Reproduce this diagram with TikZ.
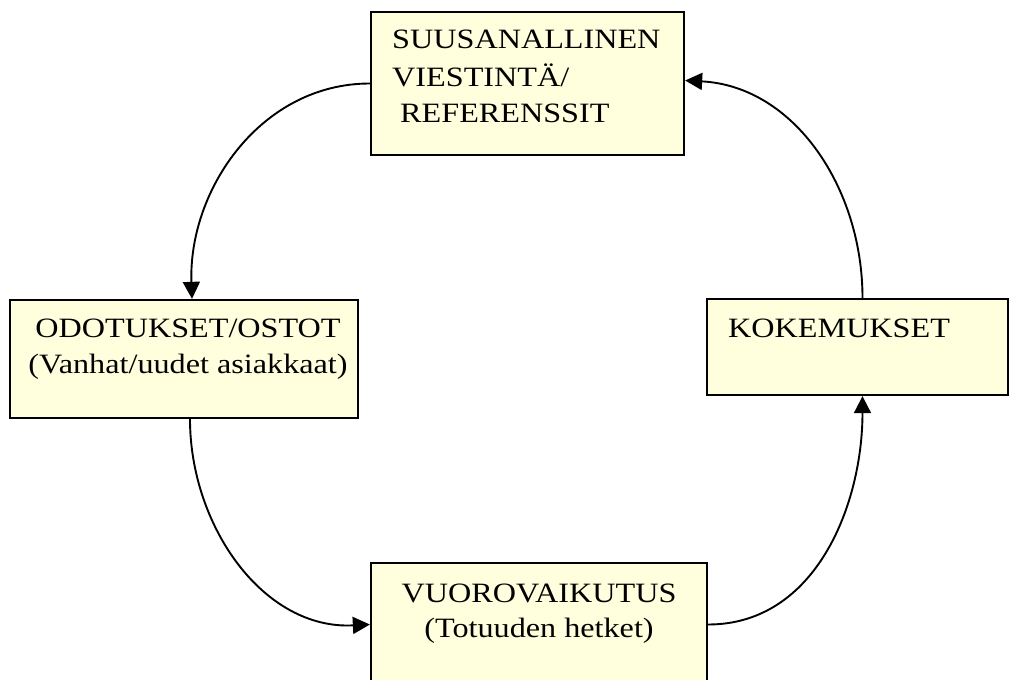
\documentclass[tikz,border=0pt]{standalone}
\usepackage{fontspec}
\setmainfont{Liberation Serif}[FakeStretch=1.15]
\usetikzlibrary{arrows.meta}
\definecolor{boxfill}{RGB}{255,255,222}
\begin{document}
\begin{tikzpicture}[x=1pt,y=-1pt,
  box/.style={draw=black, line width=2.3pt, fill=boxfill, inner sep=0pt},
  lbl/.style={inner sep=0pt, font=\fontsize{28}{37}\selectfont},
  link/.style={line width=1.9pt, -{Triangle[length=17pt,width=17pt]}}]
  \useasboundingbox (0,0) rectangle (1010,680);
  \clip (0,0) rectangle (1010,680);

  % boxes
  \node[box, minimum width=313pt, minimum height=143pt] (wom) at (527.5,83.5) {};
  \node[box, minimum width=348pt, minimum height=118pt] (exp) at (184,359) {};
  \node[box, minimum width=301pt, minimum height=96pt]  (kok) at (857.5,347) {};
  \node[box, minimum width=336pt, minimum height=123pt] (vuo) at (539,624.5) {};

  % labels
  \node[lbl, anchor=base west] (wom1) at (392,48)  {SUUSANALLINEN};
  \node[lbl, anchor=base west] (wom2) at (392,86)  {VIESTINTÄ/};
  \node[lbl, anchor=base west] (wom3) at (400,122) {REFERENSSIT};

  \node[lbl, anchor=base] (exp1) at (188,337) {ODOTUKSET/OSTOT};
  \node[lbl, anchor=base] (exp2) at (188,373) {(Vanhat/uudet asiakkaat)};

  \node[lbl, anchor=base west] (kok1) at (728,337) {KOKEMUKSET};

  \node[lbl, anchor=base] (vuo1) at (539,602) {VUOROVAIKUTUS};
  \node[lbl, anchor=base] (vuo2) at (539,637) {(Totuuden hetket)};

  % cycle of connectors
  \draw[link] (wom.west) to[out=180,in=92] ([xshift=8pt]exp.north);
  \draw[link] ([xshift=6pt]exp.south) to[out=-90,in=183] (vuo.west);
  \draw[link] (vuo.east) to[out=0,in=-90] ([xshift=5pt]kok.south);
  \draw[link] ([xshift=5pt]kok.north) to[out=90,in=-3] ([yshift=3pt]wom.east);
\end{tikzpicture}
\end{document}
